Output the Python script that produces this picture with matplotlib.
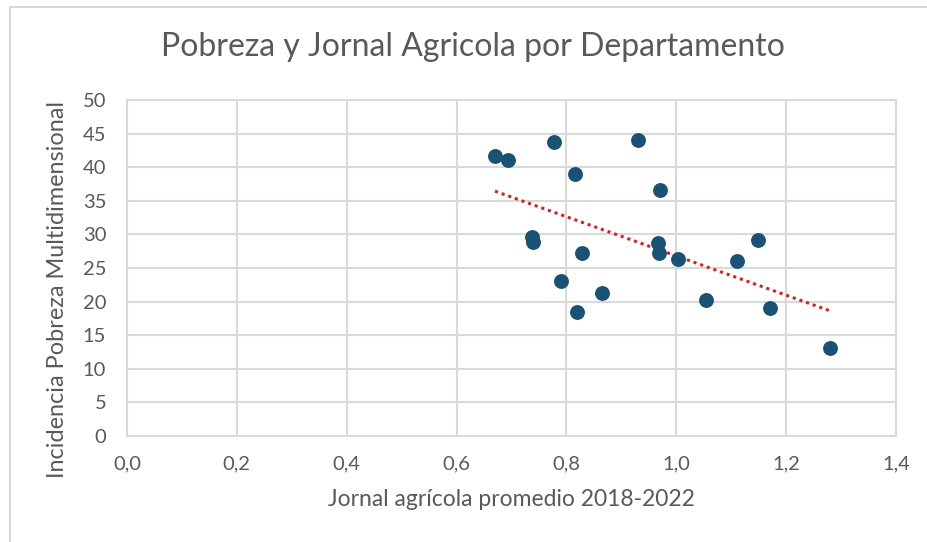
import numpy as np
import matplotlib.pyplot as plt
from matplotlib.patches import Rectangle

# jornal agricola (x) vs incidencia de pobreza multidimensional (y)
jornal = [0.670, 0.693, 0.777, 0.931, 0.815, 0.970, 0.738, 0.740, 0.829, 0.966,
          0.968, 1.004, 1.111, 1.148, 0.790, 0.864, 0.819, 1.054, 1.170, 1.279]
pobreza = [41.7, 41.0, 43.7, 44.0, 39.0, 36.6, 29.6, 28.8, 27.3, 28.7,
           27.3, 26.4, 26.0, 29.1, 23.1, 21.3, 18.5, 20.3, 19.0, 13.1]
x_ticks = [0.0, 0.2, 0.4, 0.6, 0.8, 1.0, 1.2, 1.4]
y_ticks = [0, 5, 10, 15, 20, 25, 30, 35, 40, 45, 50]

plt.rcParams['font.family'] = ['Lato', 'DejaVu Sans']
gray = '#595959'
grid = '#D9D9D9'

fig = plt.figure(figsize=(9.28, 5.42), dpi=100)
fig.patches.append(Rectangle((10/928, -0.1), 1.2, 1 - 7/542 + 0.1, transform=fig.transFigure,
                             fill=False, edgecolor='#D0D0D0', linewidth=1.2))
ax = fig.add_axes([127/928, 1 - 436/542, (896 - 127)/928, (436 - 100)/542])

ax.scatter(jornal, pobreza, s=115, color='#1A5276', zorder=3, linewidths=0)

# linear trendline
m, b = np.polyfit(jornal, pobreza, 1)
xs = np.array([min(jornal), max(jornal)])
ax.plot(xs, m * xs + b, linestyle=(0, (1, 1.3)), color='#D62020', linewidth=2.2, zorder=2)

ax.set_xlim(0, 1.4)
ax.set_ylim(0, 50)
ax.set_xticks(x_ticks)
ax.set_xticklabels([f'{v:.1f}'.replace('.', ',') for v in x_ticks])
ax.set_yticks(y_ticks)
ax.grid(True, color=grid, linewidth=1.5)
for s in ax.spines.values():
    s.set_color(grid)
    s.set_linewidth(1.5)
ax.tick_params(length=0, labelsize=14.5, colors=gray)
ax.tick_params(axis='y', pad=15)
ax.tick_params(axis='x', pad=14)

ax.set_xlabel('Jornal agrícola promedio 2018-2022', fontsize=16.5, color=gray, labelpad=12)
ax.set_ylabel('Incidencia Pobreza Multidimensional', fontsize=16.9, color=gray)
ax.yaxis.set_label_coords(-0.091, 0.435)
ax.yaxis.label.set_va('center')
fig.text(473/928, 1 - 47/542, 'Pobreza y Jornal Agricola por Departamento',
         fontsize=23, color=gray, ha='center', va='center')

fig.savefig('out.png', dpi=100)
